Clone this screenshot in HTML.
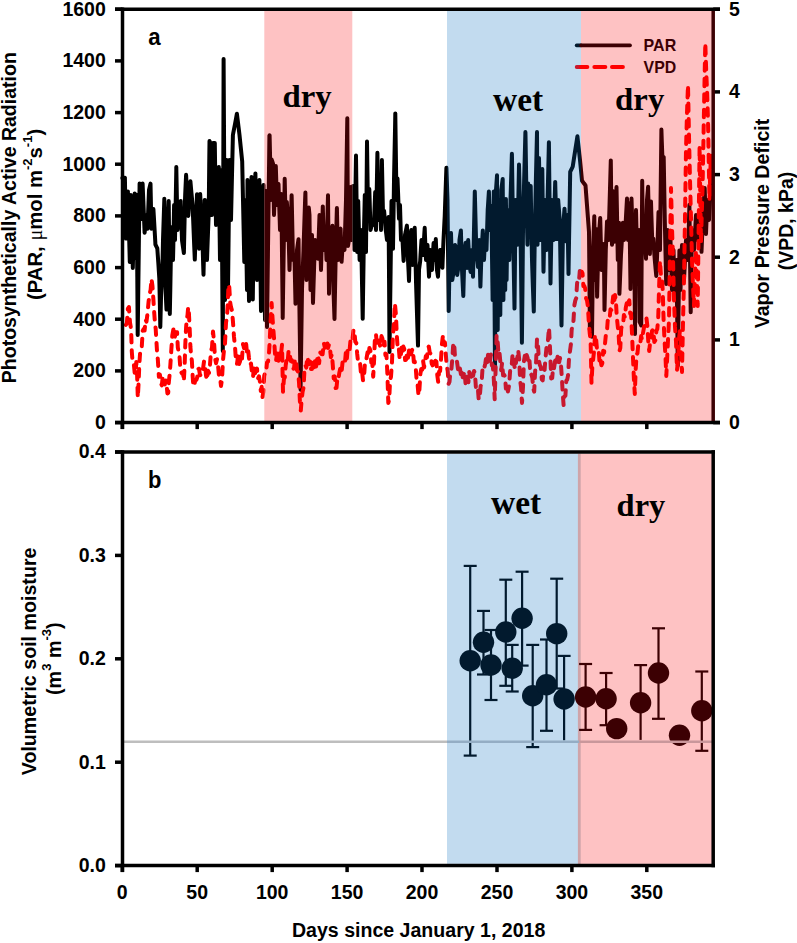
<!DOCTYPE html><html><head><meta charset="utf-8"><style>
html,body{margin:0;padding:0;background:#fff;overflow:hidden;width:797px;height:943px;}
svg{display:block;}
text{font-family:"Liberation Sans",sans-serif;font-weight:bold;}
.serif{font-family:"Liberation Serif",serif;font-weight:bold;}
</style></head><body>
<svg width="797" height="943" viewBox="0 0 797 943">
<rect width="797" height="943" fill="#fff"/>
<defs>
<clipPath id="cWa"><rect x="0" y="0" width="264.3" height="430"/><rect x="352.3" y="0" width="94.7" height="430"/></clipPath>
<clipPath id="cPa"><rect x="264.3" y="11" width="88" height="410"/><rect x="581" y="11" width="134" height="410"/></clipPath>
<clipPath id="cBa"><rect x="447" y="11" width="134" height="410"/></clipPath>
</defs>
<rect x="264.3" y="11" width="88" height="410" fill="#fec2c3"/>
<rect x="447" y="11" width="134" height="410" fill="#c2dbef"/>
<rect x="581" y="11" width="132" height="410" fill="#fec2c3"/>
<g clip-path="url(#cWa)">
<polyline points="122.3,178 123,178 123.8,177.9 124.9,177.7 125.3,201.9 125.9,238.6 126.8,217.5 127.9,191.4 128.3,206.1 129.8,261.8 129.8,262 130.8,195 131.3,213 132.8,267.7 132.8,268 134.3,209.5 134.7,193.4 135.7,258 135.8,252.4 136.7,195 137.3,277.2 137.7,335 138.8,248.5 139.6,183.6 140.3,195.7 141.6,219 141.8,212.5 142.6,183.6 143.3,200.3 144.6,232.7 144.8,231 146.3,217.1 146.5,215 147.5,228.8 147.8,221.6 149,190 149.3,188.8 150.5,183.6 150.8,197.4 151.4,228.8 152.3,220.1 153.4,209 153.8,215.6 155.3,242.2 155.4,244.5 156.8,247.3 157.3,248.4 158.3,262.7 159.3,278 159.8,300.9 160.3,327 161.2,290 161.3,288.9 162.2,274 162.8,250 163,240 164.3,199.9 164.3,198.7 165.5,290 165.8,295.1 166.5,309.6 167.3,249 167.5,230 168.7,201 168.8,207.1 169.8,314 170.3,289.6 171,250 171.8,232.6 172,227 173,260 173.3,247.2 174.1,205 174.8,230.5 175,240 176.3,169.6 176.3,167 177.5,230 177.8,226.5 178.5,216 179.3,210.9 180.7,201 180.7,202.5 182,240 182.2,241.7 183.7,252 183.9,253 185,200 185.2,194.4 186.1,174.8 186.7,186.9 188.2,214.9 188.3,216 189.7,192.2 190.4,181.3 191.2,190.4 192.6,205 192.7,208.4 194.2,245.6 194.8,259.6 195.7,231.8 197,194.3 197.2,200.4 198.7,239.2 199.1,248.7 200.2,194 200.2,194.6 201.7,224.5 202.4,237.8 203.2,265.7 203.5,274.8 204.5,230 204.7,200 205,200 206.2,236.8 207,260 207.7,240.4 208.7,214 209.2,166.1 209.5,141 210.7,144.3 211,145 212,215 212.2,199 213,143 213.7,143 214.8,143 215.2,171.7 216,225 216.7,203.5 217.5,180 218.2,172.8 218.8,167 219.7,238 220,260 221.2,187.1 221.5,170 222.7,338.9 222.8,351 223.6,59 224.2,164.3 225,300 225.7,233.7 226.5,160 227.2,221.4 228,290 228.7,228.7 229.5,160 230.2,188.3 231,220 231.7,188.5 232.9,135 233.2,133.4 234.7,125.6 235,124 236.2,117.5 236.9,113.7 237.7,120.3 239.2,132.5 239.5,135 240.7,146.8 242.2,161.5 242.2,161.5 243.7,233 244.3,262 245.2,215.8 245.5,200 246.7,271.5 247,290 247.5,180 248.2,235.7 249,301 249.7,266.8 251.2,192.5 251.5,177 252.7,288.8 252.8,299.5 254,200 254.2,196.5 255.4,173.4 255.7,192.3 257,280 257.2,272.4 258.7,209.9 259.4,180 260.2,243.9 261,311 261.7,303.2 262,299.5 263.2,209.6 263.5,185 264.7,290.9 265,320 266,191 266.2,214.8 267,327 267.7,273.3 269.2,153.8 269.4,135.7 269.6,135.3 270.7,184.8 271,200 271.6,159.4 272.2,161.1 273,163.6 273.7,198 274,215 275.2,183.2 275.8,166 276.7,194.1 277,205 278.2,188.7 278.5,184 279.7,219.7 280,230 281.2,197.8 281.3,194 282.7,314.5 282.7,318 284.2,216.3 284.7,178.7 285.7,223.9 286,240 286.8,202 287.2,206.8 288.2,221 288.7,238.2 289.5,270 290.2,246.7 291.6,195.2 291.7,197.7 293,260 293.2,259.5 294.4,255 294.7,266.1 295.5,303.7 296.1,280.5 297,250 297.6,245.4 298.5,239.3 299.1,285.6 300.6,389.7 300.6,386.5 302,290 302.1,286.2 303.5,250 303.6,245.7 305.1,200.3 305.4,192.5 306.5,280 306.6,276.3 308,240 308.1,234.4 308.8,207.6 309.5,215 309.6,225.3 310.5,290 311.1,266.7 312,235 312.6,278.2 313,303 314.1,267.3 315,240 315.6,241.2 316.9,243.5 317.1,246.7 318,258.7 318.6,240.4 319.5,215 320.1,238 321,270 321.6,247.8 322.8,206.4 323.1,218.2 324,250 324.6,241.7 325.5,230 326.1,248.7 326.5,260 327.6,211.6 328,195.3 329,293.7 329.1,289.4 330.5,240 330.6,239.1 332.1,227.8 332.4,225.7 333.5,290 333.6,293.4 334.5,319 335.1,286.3 335.8,250 336.6,218.9 336.9,208 338,260 338.1,257.7 339.5,230 339.6,229.9 340.6,228.7 341.1,245.6 341.6,261.8 342.6,246.1 343,240 344.1,247.4 344.5,250 345.6,213.1 346,200 347.1,130.5 347.3,118.2 348,246 348.6,242 349.5,236 350.1,211.4 350.7,187 351.5,240 351.6,236.4 353,186 353.1,190.3 354.5,250 354.6,243.8 356,155.6 356.1,163.4 357.2,252 357.6,231.8 358.2,201 359.1,238.7 359.6,260 360.6,238.7 361,230 362.1,287 362.7,318.7 363.6,257.9 364,230 364.8,195 365.1,208.7 366,252 366.6,187 367,141.5 368,210 368.1,208.6 369.3,189 369.6,198.8 370.5,230 371.1,227.7 372.3,223 372.6,223.3 373.9,224.8 374.1,220.2 375.2,192 375.6,210.1 376,230 377.1,170.4 377.4,152.7 378.5,220 378.6,218 379.7,189 380.1,200.9 381,230 381.6,185.3 381.9,160 383,215 383.1,214.7 384.1,211 384.6,216.7 385.6,229 386.1,232.7 387,240 387.6,231.8 388.6,217 389.1,287.3 389.5,352 390.6,271.4 391.5,201 392.1,219 393,248.7 393.6,209.9 394,180 395.1,125.5 395.3,113.4 396.5,200 396.6,198.7 397.5,178.6 398.1,193.6 399,218.7 399.6,205 400,205 401,240 401.1,240 402.4,239 402.6,241.9 403.6,261 404.1,252.5 405,235 405.6,232.3 406.9,225.6 407.1,230.4 408,260 408.6,271.6 409,281 410,240 410.1,239.6 411.3,230 411.5,237.3 412.5,265 413,251.3 413.5,240 414.5,229.4 414.7,227.8 416,280 416,281.5 417.5,330.6 418,345.6 419,270 419,269.7 420.2,261 420.5,255.5 421.5,240 422,245.4 423,255 423.5,246.4 424.7,227.8 425,236.2 426,260 426.5,254.6 427.5,245 428,256.3 429,276.7 429.5,267.2 430.5,250 431,257.1 432,270 432.5,261 433.6,243 434,248.2 435,260 435.5,246.1 435.8,239 437,270 437,270.2 438,276.7 438.5,265.3 439,255 440,250.7 440.2,250 441.5,262 441.5,262.1 442.4,267.8 443,252.1 443.5,240 444.5,220.2 444.7,216.7 446,178.8 446.4,167.8 447.5,200 447.5,201.7 448.7,311 449,293.7 450,240 450.5,236.4 451,233 452,269.7 452.3,280 453.5,272 453.5,271.8 455,245 455,245 456,247.6 456.5,259.2 457.2,275 458,269.6 458.4,267 459.5,240 459.5,239.9 460.9,230.5 461,234.3 462,270 462.5,280.1 463.3,296 464,269 464.5,250 465.5,243.9 465.7,242.7 467,268 467,268 468.2,240 468.5,245.8 469.5,265 470,268.2 470.6,272 471.5,255.6 471.8,250 473,276.7 473,276.8 474.5,206 474.8,191.5 476,238 476.3,250 477.5,261.9 478,267 479,244.7 479.2,240 480.4,286.6 480.5,283.9 481.6,250 482,243.7 482.8,230.5 483.5,247.4 484,260 485,239.5 485.2,235 486.5,249.8 486.5,250 487.7,210 488,205.6 488.9,191.5 489.5,211.9 490,230 491,211.9 491.3,206 492.5,291.2 492.6,300 493.8,191.5 494,217.5 495,367 495.5,282.7 496,190 497,175.7 497,175.3 497.7,330 498.5,204.3 498.5,200 499.5,224 500,277.7 500.3,315 501.2,190 501.5,188 502.7,179 503,225.6 503.4,300 504.3,200 504.5,216.8 505.2,290 505.9,199 506,206.8 506.6,280 507.5,212.7 507.5,210 508.4,211.6 509,242 509.3,260 510.5,201.8 510.5,200 511.9,153.7 512,158 513,230 513.5,254.1 514.5,308.6 515,258.7 515.5,200 516.5,222.6 517.4,244.8 518,216.9 519,164.5 519.5,184.4 520.5,230 521,266.6 521.9,342.8 522.5,286.1 523,230 524,188.1 524,186 525.4,132 525.5,135.1 526.5,200 526.9,220.1 527.5,244.8 528.2,183.6 528.4,192.4 529.5,230 529.9,213.6 530.7,186 531.4,228.4 532,260 532.9,287.1 533.8,311.6 534.4,263.5 535,221.8 535.9,179.5 537,132 537.4,231.2 537.5,244.8 538.9,161.6 539,158 540.4,236.6 540.5,240 541.9,183.4 542.3,169 543.4,266.2 543.5,271.8 544.9,203.2 545,200 546.4,247.7 546.5,250 547.9,185.7 548.9,142.2 549.4,188.9 550.5,283.4 550.9,259.6 552,200 552.4,211.4 553.5,240 553.9,225.5 555.2,181.9 555.4,189.9 556.8,239 556.9,235.6 558.2,200 558.4,202.8 559.8,220.4 559.9,227.8 561.4,320.5 561.5,325.5 562.9,235.2 563,230 564.4,209.9 564.5,208.7 565.9,233.1 566.4,241.4 567.4,217.1 567.5,215 568.5,274 568.9,249.2 570.2,172 570.4,171.4 570.4,171.4 571.9,168.3 572.7,166.7 573.4,162.1 574.9,152.4 576.4,142.7 577.4,136.3 577.9,140.9 579.4,154.6 580,160 580.9,169.3 582,180.7 582.4,181.2 583.9,183.3 585.4,185.3 585.5,185.4 586.9,204 588.4,224 589,232 589.9,330 590.2,330 591.3,300 591.4,304.9 592,336.8 592.9,259.4 593,250 594.3,216.3 594.4,224.5 595,280 595.9,242.2 596.2,229 597.1,296.8 597.4,285.1 598.5,240 598.9,235 600.2,218 600.4,225.4 601.5,270 601.9,264.9 603,250 603.4,247.1 603.8,244 604.5,310 604.9,292.4 605.8,250 606.4,236.2 607,221.4 607.9,232.3 608.5,240 609.4,209.6 610.8,160.4 610.9,168 611.5,230 612,244.8 612.4,216 612.7,191 613.9,236.9 614,241.8 615.3,210 615.4,208.6 616.5,187 616.9,207.8 617.8,260 618.4,242.3 619,222.7 619.4,293.8 619.9,282.3 621,254.5 621.4,248.4 622.9,223.3 622.9,222.7 624,240 624.4,236.5 625.4,226.5 625.9,218.4 627,198.5 627.4,213.5 628,240 628.9,215.9 629.3,203.6 630.4,279 630.5,289 631.5,198.5 631.9,211.3 633,252 633.4,240.6 634,220 634.9,317.4 635,333.9 636,210 636.4,226.1 637.5,278 637.9,266.7 639,230 639.4,283.9 639.6,322 640.9,324.7 641.2,325.5 642.2,180.8 642.3,190.2 643.3,250 643.8,240.5 644.4,231 645.3,247.4 646,258.7 646.8,209.1 647,200 648.1,186.8 648.3,195.9 649.8,251.8 649.9,254 651,201.6 651.3,212.5 652.2,240 652.8,239.2 653.3,238.7 654.3,253.4 654.8,260 655.8,271.1 656.3,276 657.3,250.1 657.5,246 658.5,212 658.8,220.5 660,250 660.3,221.3 661.4,129.6 661.8,141.5 662.5,160 663.3,157.9 663.7,157 664.8,220.4 665,230 666.2,284 666.3,278.7 667.5,230 667.8,238.7 669,270 669.3,263.5 670.5,240 670.8,250.8 672,290 672.3,281.4 673.5,250 673.8,260.7 675,300 675.3,291.5 676.5,260 676.8,285.9 677.8,365.7 678.3,328.4 679.4,250.5 679.8,265.5 680.5,290 681.3,265.5 682,245 682.8,259.2 684,280 684.3,273.8 685.8,243.8 686,240 687.3,253.1 688,260 688.8,228.1 689.4,204.7 690.3,279.8 690.7,312.3 691.8,242.3 692,230 693.3,243 694,250 694.8,235.9 696,215 696.3,218.8 697.8,237.5 698,240 699.3,227 700,220 700.8,236.9 701.5,251.8 702.3,232.2 703,215 703.8,202.4 704.7,188 705.3,209 706,234 706.8,213.3 707.3,200 708.3,211.7 709,220 709.8,204.2 710.5,190 711.3,185.7 712,181.8" fill="none" stroke="#000" stroke-width="4" stroke-linejoin="round" stroke-linecap="round"/>
<polyline points="125.9,324.9 126.9,323 127.9,308.5 128.9,307 130,322.7 131.1,329 131.8,351.6 132.6,362 133.7,362.7 134.8,373.9 135.6,372.4 136.3,362 137.1,374.6 137.8,397.6 138.6,383.1 139.3,365 140.1,352.6 140.8,347 141.8,346.3 142.7,330.9 143.7,329 144.6,330.5 145.6,319.7 146.5,321.6 147.4,314.5 148.6,301.5 149.7,293.7 150.6,290 151.5,278.9 152.4,285.4 153.4,299.7 154.2,312.6 154.9,322 155.7,329 156.4,341 157.1,352.7 157.8,359 158.9,376.8 159.9,374.6 160.8,382.8 161.8,385.4 162.8,376.5 163.8,376.8 164.8,384.5 165.7,380.5 166.7,385.7 167.4,393.4 168.2,393 168.9,381.3 169.7,373.9 170.4,364.4 171.2,351.6 172.3,335.4 173.4,329.3 174.2,335.5 174.9,336.8 176,332.1 177.1,332.3 177.8,347.4 178.6,351.6 179.3,353.3 180.1,365 181.2,372.2 182.3,373.9 183.1,372.2 183.8,381.3 184.6,366.5 185.3,344.2 186.1,327.3 186.8,319 187.5,315.4 188.2,307 188.9,312.9 189.7,329.3 190.4,347 191.2,356 191.9,361 192.7,376.8 193.4,386.3 194.2,385.7 195.3,379.9 196.4,379.8 197.2,377.4 198,369 199,368.7 200,375.2 201,375 202,368.6 203,368.9 204,361.6 205,363.8 206,375.5 207,380 208,370.7 209,373 210,365 211,351 212,347.5 213,331.5 214,341.2 215,358 216,363.2 217,359.2 218,365 219,376.4 220,377.1 221,386 222,379.4 223,360.3 224,350 225,343.4 226,322.8 227,316.5 227.8,302.2 228.5,284.5 229.3,287.3 230.2,302.6 231,307 232,310.6 233,322 234,336.9 235,346.6 236,361.6 237,363.9 238,356.3 239,364 240,361.6 241,352.9 242,358.6 243,344 244,348.1 245,341 246,342.2 247,353.2 248,349.1 249,358 250,365.1 251,363.5 252,373 253,377.2 254,367 255,373.3 256,371 257,368.5 258,378.5 259,376.3 260,382 260.8,391 261.7,386.8 262.5,397 263.3,392 264.2,375.8 265,373 266,372.9 267,362.5 268,361.6 268.8,356.2 269.5,345 270.6,321.7 271.6,303 272.6,319.2 273.5,331.5 274.2,340.5 275,354 276,360.8 277,353.6 278,361.6 279,359.6 280,351.3 281,354.4 282,344.7 283,391.7 283.9,379.2 284.8,377.4 285.7,365.4 286.6,359.5 287.6,362.6 288.6,350.5 289.5,352 290.7,361.1 291.8,360.1 293,369 294,368.4 295,358.9 296,361.6 297,370.2 298,371.6 299,382 299.9,401.2 300.8,410.6 301.7,399 302.6,391.7 303.6,387.4 304.5,368.9 305.5,365.4 306.3,367.6 307.2,357 308,359.8 309,364.2 310,361.1 311,368.9 312,369 313,362.6 313.9,368.8 314.9,361.2 315.8,368.6 316.8,361.6 318,354.8 319.1,363.2 320.3,352.5 321.5,354 322.6,354.3 323.8,343 324.9,347.7 326,341 327,340.1 328,348 329,344.4 330,348.5 330.9,357.2 331.9,354.3 332.8,365.4 333.7,378.3 334.7,376.4 335.6,388 336.5,387.8 337.5,377.5 338.4,378.7 339.3,373 340.5,367.5 341.6,372 342.8,359.5 344,361.6 345,362 345.9,351.7 346.9,358.4 347.8,346.8 348.8,348.5 349.7,349.5 350.7,337.6 351.6,339 352.5,339.5 353.5,329.6 354.4,331.5 355.3,341.7 356.3,343 357.2,354 358.1,362.4 359,361.6 360,362 361,373.8 362,370.5 363,380.5 363.9,379 364.8,365.3 365.7,365.2 366.6,357.9 367.6,352.2 368.5,356.7 369.4,348 370.4,350.3 371.3,362.5 372.3,363.1 373.2,376.7 374.1,360.1 375,335.3 376,334.3 377,345.8 378,346.6 379.1,340.6 380.3,347.3 381.5,336.1 382.6,339 383.6,345.7 384.5,341.6 385.4,355.2 386.4,354 387.4,374.2 388.3,403 389.2,399.6 390.1,380.1 391,376.7 392,362 392.9,336.3 393.9,323.9 394.9,303.3 395.9,314.4 396.8,335.3 397.7,348.1 398.7,346.9 399.6,357.9 400.5,359.4 401.5,347.8 402.4,353.9 403.3,346.6 404.2,348.7 405.1,360.1 406,359.8 407,352.7 408,357.7 409,350.3 410,346.9 411,354.2 412,350 412.9,349.2 413.8,361.8 414.7,361.5 415.6,365.6 416.6,380.2 417.6,384.7 418.5,395.4 419.4,389.9 420.4,373.6 421.3,369 422.2,369.6 423.1,361 424.1,367.5 425,361.5 425.9,355.9 426.9,357.5 427.9,347.7 428.8,346.5 429.8,353.1 430.7,353.7 431.7,363.5 432.6,365.3 433.6,362 434.5,365.8 435.4,360.7 436.4,361.5 437.3,375.3 438.2,382.2 439.1,371.6 440.1,371.1 441,359.6 442,343.4 443,335 443.9,343.9 444.9,342.5 445.8,354 446.7,365.7 447.7,370.8 448.6,384 449.5,381.7 450.5,370.8 451.4,369 452.4,357.9 453.3,342.7 454.2,344.1 455.1,358.3 456,361.5 457,361.6 458,369.3 459,365.1 460,369 460.9,374.2 461.8,368.9 462.7,377.2 463.6,374.7 464.6,371.2 465.5,383.2 466.5,380.3 467.4,375.6 468.4,382.3 469.3,372 470.2,374.7 471.1,376.8 472.1,370.7 473.1,375.9 474,371 474.9,372.8 475.9,387.6 476.8,387.9 477.7,386.3 478.7,399.4 479.6,399.2 480.6,386.1 481.5,384.2 482.5,369 483.4,365.5 484.4,367.3 485.3,363.4 486.2,357.2 487.1,362.7 488.1,354.2 489,354 489.9,360.9 490.9,354.6 491.9,365.6 492.8,365.3 493.8,378.9 494.7,399.2 495.6,369.7 496.6,335.2 497.5,339 498.5,353.7 499.4,351.8 500.3,361.5 501.2,370.2 502.1,362.9 503.1,375.3 504,374.7 505,376.3 505.9,388.6 506.9,383.8 507.9,391.6 509.1,385.4 510.2,369.9 511.4,368.8 512.6,354 513.5,355.5 514.5,366.8 515.4,369 516.3,359.2 517.3,358.6 518.2,350.2 519.2,359.4 520.1,380 521,387 522,403 523,386.9 523.9,361.5 524.8,355.7 525.8,361.4 526.7,355 527.6,357.8 528.5,364.7 529.5,361 530.5,375.1 531.4,374.7 532.3,377.7 533.3,388.6 534.2,391.6 535.1,371.8 536.1,362 537,339 538,345 538.9,360.5 539.9,365.3 540.8,366.8 541.8,379.4 542.7,380.3 543.6,368.8 544.6,369.8 545.5,357.8 546.7,345.6 547.8,342.2 549,327.6 550.1,350.2 551.2,378.5 552.2,378 553.1,367.1 554,368.5 555,361.5 555.8,356.3 556.7,361.9 557.5,357 558.3,354.3 559.2,362.2 560,358 561,365.1 562,380 562.8,394.3 563.6,405 564.5,396.1 565.4,395.8 566.3,380.8 567.2,379.7 568.1,375.2 569.1,356.8 570,351 570.9,344.3 571.7,329.5 572.6,325.7 573.5,320.6 574.4,305 575.3,300.5 576.2,298.2 577.1,283.1 578,280.6 578.9,281.9 579.8,270.9 580.7,277 581.6,271.6 582.5,273.2 583.4,286.1 584.3,286 585.2,288.4 586.1,298.5 587,300.5 587.9,306.4 588.8,322 589.7,332.9 590.6,340 591.5,383 592.4,365.6 593.3,358 594.1,350.7 595,334.7 595.9,336.8 596.9,348.3 597.8,351 598.7,349.9 599.6,363.3 600.5,359.5 601.4,365.3 602.3,363.4 603.2,350.7 604.1,352.7 605,343.7 605.9,334.5 606.8,333.3 607.7,320.9 608.6,318.5 609.5,319.7 610.5,309.3 611.4,310.2 612.3,304 613.2,296.2 614.1,302.7 615,295 615.9,301 616.8,317.2 617.7,325.7 618.6,333.9 619.5,351 620.3,348 621.2,328.6 622,325.7 623,325.5 623.9,314.9 624.8,317.1 625.8,307.7 626.7,303.3 627.6,308 628.5,302 629.3,300.4 630.2,313.7 631,313 632,333.3 633,358 633.9,378.8 634.8,394 635.7,369.1 636.6,354.5 637.5,353.1 638.4,343.3 639.3,343.7 640.2,344.3 641.1,336.1 642.1,339.7 643,333 644.2,326.3 645.3,325.4 646.5,318.5 647.4,326.2 648.3,342.1 649.2,351 650.1,342.5 651.1,341.5 652,331 653.2,329.5 654.3,342 655.5,340 656.4,330.7 657.3,329 658.2,318.5 659.1,286.8 660,260.8 660.9,274.4 661.8,276.5 662.7,289.6 663.6,320.1 664.5,340 665.4,354.9 666.3,376 667.1,359.9 668,340 669,320 670,249.7 671,188 672,227.6 673,258.6 674,300 675,326.9 676,341.5 677,370 678,360.5 679,339.3 680,330 681,353.7 682,372 683,322.2 684,280 685,217.6 686,150 687,113 688,85 689,136.1 690,180 691,217.8 692,260 693,285.6 694,306 695,274.9 696,250 696.9,282.5 697.7,306 698.7,223.7 699.6,146 700.3,198.9 701,243 701.8,212.3 702.5,190 703.4,143 704.4,87.8 705.3,43 706.2,70.7 707.1,92.2 708,120 708.8,163.9 709.5,200 710.2,174.4 711,154 711.8,182 712.5,200" fill="none" stroke="#ff0000" stroke-width="4" stroke-dasharray="7.5 8" stroke-linejoin="round" stroke-linecap="round"/>
</g>
<g clip-path="url(#cPa)">
<polyline points="122.3,178 123,178 123.8,177.9 124.9,177.7 125.3,201.9 125.9,238.6 126.8,217.5 127.9,191.4 128.3,206.1 129.8,261.8 129.8,262 130.8,195 131.3,213 132.8,267.7 132.8,268 134.3,209.5 134.7,193.4 135.7,258 135.8,252.4 136.7,195 137.3,277.2 137.7,335 138.8,248.5 139.6,183.6 140.3,195.7 141.6,219 141.8,212.5 142.6,183.6 143.3,200.3 144.6,232.7 144.8,231 146.3,217.1 146.5,215 147.5,228.8 147.8,221.6 149,190 149.3,188.8 150.5,183.6 150.8,197.4 151.4,228.8 152.3,220.1 153.4,209 153.8,215.6 155.3,242.2 155.4,244.5 156.8,247.3 157.3,248.4 158.3,262.7 159.3,278 159.8,300.9 160.3,327 161.2,290 161.3,288.9 162.2,274 162.8,250 163,240 164.3,199.9 164.3,198.7 165.5,290 165.8,295.1 166.5,309.6 167.3,249 167.5,230 168.7,201 168.8,207.1 169.8,314 170.3,289.6 171,250 171.8,232.6 172,227 173,260 173.3,247.2 174.1,205 174.8,230.5 175,240 176.3,169.6 176.3,167 177.5,230 177.8,226.5 178.5,216 179.3,210.9 180.7,201 180.7,202.5 182,240 182.2,241.7 183.7,252 183.9,253 185,200 185.2,194.4 186.1,174.8 186.7,186.9 188.2,214.9 188.3,216 189.7,192.2 190.4,181.3 191.2,190.4 192.6,205 192.7,208.4 194.2,245.6 194.8,259.6 195.7,231.8 197,194.3 197.2,200.4 198.7,239.2 199.1,248.7 200.2,194 200.2,194.6 201.7,224.5 202.4,237.8 203.2,265.7 203.5,274.8 204.5,230 204.7,200 205,200 206.2,236.8 207,260 207.7,240.4 208.7,214 209.2,166.1 209.5,141 210.7,144.3 211,145 212,215 212.2,199 213,143 213.7,143 214.8,143 215.2,171.7 216,225 216.7,203.5 217.5,180 218.2,172.8 218.8,167 219.7,238 220,260 221.2,187.1 221.5,170 222.7,338.9 222.8,351 223.6,59 224.2,164.3 225,300 225.7,233.7 226.5,160 227.2,221.4 228,290 228.7,228.7 229.5,160 230.2,188.3 231,220 231.7,188.5 232.9,135 233.2,133.4 234.7,125.6 235,124 236.2,117.5 236.9,113.7 237.7,120.3 239.2,132.5 239.5,135 240.7,146.8 242.2,161.5 242.2,161.5 243.7,233 244.3,262 245.2,215.8 245.5,200 246.7,271.5 247,290 247.5,180 248.2,235.7 249,301 249.7,266.8 251.2,192.5 251.5,177 252.7,288.8 252.8,299.5 254,200 254.2,196.5 255.4,173.4 255.7,192.3 257,280 257.2,272.4 258.7,209.9 259.4,180 260.2,243.9 261,311 261.7,303.2 262,299.5 263.2,209.6 263.5,185 264.7,290.9 265,320 266,191 266.2,214.8 267,327 267.7,273.3 269.2,153.8 269.4,135.7 269.6,135.3 270.7,184.8 271,200 271.6,159.4 272.2,161.1 273,163.6 273.7,198 274,215 275.2,183.2 275.8,166 276.7,194.1 277,205 278.2,188.7 278.5,184 279.7,219.7 280,230 281.2,197.8 281.3,194 282.7,314.5 282.7,318 284.2,216.3 284.7,178.7 285.7,223.9 286,240 286.8,202 287.2,206.8 288.2,221 288.7,238.2 289.5,270 290.2,246.7 291.6,195.2 291.7,197.7 293,260 293.2,259.5 294.4,255 294.7,266.1 295.5,303.7 296.1,280.5 297,250 297.6,245.4 298.5,239.3 299.1,285.6 300.6,389.7 300.6,386.5 302,290 302.1,286.2 303.5,250 303.6,245.7 305.1,200.3 305.4,192.5 306.5,280 306.6,276.3 308,240 308.1,234.4 308.8,207.6 309.5,215 309.6,225.3 310.5,290 311.1,266.7 312,235 312.6,278.2 313,303 314.1,267.3 315,240 315.6,241.2 316.9,243.5 317.1,246.7 318,258.7 318.6,240.4 319.5,215 320.1,238 321,270 321.6,247.8 322.8,206.4 323.1,218.2 324,250 324.6,241.7 325.5,230 326.1,248.7 326.5,260 327.6,211.6 328,195.3 329,293.7 329.1,289.4 330.5,240 330.6,239.1 332.1,227.8 332.4,225.7 333.5,290 333.6,293.4 334.5,319 335.1,286.3 335.8,250 336.6,218.9 336.9,208 338,260 338.1,257.7 339.5,230 339.6,229.9 340.6,228.7 341.1,245.6 341.6,261.8 342.6,246.1 343,240 344.1,247.4 344.5,250 345.6,213.1 346,200 347.1,130.5 347.3,118.2 348,246 348.6,242 349.5,236 350.1,211.4 350.7,187 351.5,240 351.6,236.4 353,186 353.1,190.3 354.5,250 354.6,243.8 356,155.6 356.1,163.4 357.2,252 357.6,231.8 358.2,201 359.1,238.7 359.6,260 360.6,238.7 361,230 362.1,287 362.7,318.7 363.6,257.9 364,230 364.8,195 365.1,208.7 366,252 366.6,187 367,141.5 368,210 368.1,208.6 369.3,189 369.6,198.8 370.5,230 371.1,227.7 372.3,223 372.6,223.3 373.9,224.8 374.1,220.2 375.2,192 375.6,210.1 376,230 377.1,170.4 377.4,152.7 378.5,220 378.6,218 379.7,189 380.1,200.9 381,230 381.6,185.3 381.9,160 383,215 383.1,214.7 384.1,211 384.6,216.7 385.6,229 386.1,232.7 387,240 387.6,231.8 388.6,217 389.1,287.3 389.5,352 390.6,271.4 391.5,201 392.1,219 393,248.7 393.6,209.9 394,180 395.1,125.5 395.3,113.4 396.5,200 396.6,198.7 397.5,178.6 398.1,193.6 399,218.7 399.6,205 400,205 401,240 401.1,240 402.4,239 402.6,241.9 403.6,261 404.1,252.5 405,235 405.6,232.3 406.9,225.6 407.1,230.4 408,260 408.6,271.6 409,281 410,240 410.1,239.6 411.3,230 411.5,237.3 412.5,265 413,251.3 413.5,240 414.5,229.4 414.7,227.8 416,280 416,281.5 417.5,330.6 418,345.6 419,270 419,269.7 420.2,261 420.5,255.5 421.5,240 422,245.4 423,255 423.5,246.4 424.7,227.8 425,236.2 426,260 426.5,254.6 427.5,245 428,256.3 429,276.7 429.5,267.2 430.5,250 431,257.1 432,270 432.5,261 433.6,243 434,248.2 435,260 435.5,246.1 435.8,239 437,270 437,270.2 438,276.7 438.5,265.3 439,255 440,250.7 440.2,250 441.5,262 441.5,262.1 442.4,267.8 443,252.1 443.5,240 444.5,220.2 444.7,216.7 446,178.8 446.4,167.8 447.5,200 447.5,201.7 448.7,311 449,293.7 450,240 450.5,236.4 451,233 452,269.7 452.3,280 453.5,272 453.5,271.8 455,245 455,245 456,247.6 456.5,259.2 457.2,275 458,269.6 458.4,267 459.5,240 459.5,239.9 460.9,230.5 461,234.3 462,270 462.5,280.1 463.3,296 464,269 464.5,250 465.5,243.9 465.7,242.7 467,268 467,268 468.2,240 468.5,245.8 469.5,265 470,268.2 470.6,272 471.5,255.6 471.8,250 473,276.7 473,276.8 474.5,206 474.8,191.5 476,238 476.3,250 477.5,261.9 478,267 479,244.7 479.2,240 480.4,286.6 480.5,283.9 481.6,250 482,243.7 482.8,230.5 483.5,247.4 484,260 485,239.5 485.2,235 486.5,249.8 486.5,250 487.7,210 488,205.6 488.9,191.5 489.5,211.9 490,230 491,211.9 491.3,206 492.5,291.2 492.6,300 493.8,191.5 494,217.5 495,367 495.5,282.7 496,190 497,175.7 497,175.3 497.7,330 498.5,204.3 498.5,200 499.5,224 500,277.7 500.3,315 501.2,190 501.5,188 502.7,179 503,225.6 503.4,300 504.3,200 504.5,216.8 505.2,290 505.9,199 506,206.8 506.6,280 507.5,212.7 507.5,210 508.4,211.6 509,242 509.3,260 510.5,201.8 510.5,200 511.9,153.7 512,158 513,230 513.5,254.1 514.5,308.6 515,258.7 515.5,200 516.5,222.6 517.4,244.8 518,216.9 519,164.5 519.5,184.4 520.5,230 521,266.6 521.9,342.8 522.5,286.1 523,230 524,188.1 524,186 525.4,132 525.5,135.1 526.5,200 526.9,220.1 527.5,244.8 528.2,183.6 528.4,192.4 529.5,230 529.9,213.6 530.7,186 531.4,228.4 532,260 532.9,287.1 533.8,311.6 534.4,263.5 535,221.8 535.9,179.5 537,132 537.4,231.2 537.5,244.8 538.9,161.6 539,158 540.4,236.6 540.5,240 541.9,183.4 542.3,169 543.4,266.2 543.5,271.8 544.9,203.2 545,200 546.4,247.7 546.5,250 547.9,185.7 548.9,142.2 549.4,188.9 550.5,283.4 550.9,259.6 552,200 552.4,211.4 553.5,240 553.9,225.5 555.2,181.9 555.4,189.9 556.8,239 556.9,235.6 558.2,200 558.4,202.8 559.8,220.4 559.9,227.8 561.4,320.5 561.5,325.5 562.9,235.2 563,230 564.4,209.9 564.5,208.7 565.9,233.1 566.4,241.4 567.4,217.1 567.5,215 568.5,274 568.9,249.2 570.2,172 570.4,171.4 570.4,171.4 571.9,168.3 572.7,166.7 573.4,162.1 574.9,152.4 576.4,142.7 577.4,136.3 577.9,140.9 579.4,154.6 580,160 580.9,169.3 582,180.7 582.4,181.2 583.9,183.3 585.4,185.3 585.5,185.4 586.9,204 588.4,224 589,232 589.9,330 590.2,330 591.3,300 591.4,304.9 592,336.8 592.9,259.4 593,250 594.3,216.3 594.4,224.5 595,280 595.9,242.2 596.2,229 597.1,296.8 597.4,285.1 598.5,240 598.9,235 600.2,218 600.4,225.4 601.5,270 601.9,264.9 603,250 603.4,247.1 603.8,244 604.5,310 604.9,292.4 605.8,250 606.4,236.2 607,221.4 607.9,232.3 608.5,240 609.4,209.6 610.8,160.4 610.9,168 611.5,230 612,244.8 612.4,216 612.7,191 613.9,236.9 614,241.8 615.3,210 615.4,208.6 616.5,187 616.9,207.8 617.8,260 618.4,242.3 619,222.7 619.4,293.8 619.9,282.3 621,254.5 621.4,248.4 622.9,223.3 622.9,222.7 624,240 624.4,236.5 625.4,226.5 625.9,218.4 627,198.5 627.4,213.5 628,240 628.9,215.9 629.3,203.6 630.4,279 630.5,289 631.5,198.5 631.9,211.3 633,252 633.4,240.6 634,220 634.9,317.4 635,333.9 636,210 636.4,226.1 637.5,278 637.9,266.7 639,230 639.4,283.9 639.6,322 640.9,324.7 641.2,325.5 642.2,180.8 642.3,190.2 643.3,250 643.8,240.5 644.4,231 645.3,247.4 646,258.7 646.8,209.1 647,200 648.1,186.8 648.3,195.9 649.8,251.8 649.9,254 651,201.6 651.3,212.5 652.2,240 652.8,239.2 653.3,238.7 654.3,253.4 654.8,260 655.8,271.1 656.3,276 657.3,250.1 657.5,246 658.5,212 658.8,220.5 660,250 660.3,221.3 661.4,129.6 661.8,141.5 662.5,160 663.3,157.9 663.7,157 664.8,220.4 665,230 666.2,284 666.3,278.7 667.5,230 667.8,238.7 669,270 669.3,263.5 670.5,240 670.8,250.8 672,290 672.3,281.4 673.5,250 673.8,260.7 675,300 675.3,291.5 676.5,260 676.8,285.9 677.8,365.7 678.3,328.4 679.4,250.5 679.8,265.5 680.5,290 681.3,265.5 682,245 682.8,259.2 684,280 684.3,273.8 685.8,243.8 686,240 687.3,253.1 688,260 688.8,228.1 689.4,204.7 690.3,279.8 690.7,312.3 691.8,242.3 692,230 693.3,243 694,250 694.8,235.9 696,215 696.3,218.8 697.8,237.5 698,240 699.3,227 700,220 700.8,236.9 701.5,251.8 702.3,232.2 703,215 703.8,202.4 704.7,188 705.3,209 706,234 706.8,213.3 707.3,200 708.3,211.7 709,220 709.8,204.2 710.5,190 711.3,185.7 712,181.8" fill="none" stroke="#3c0003" stroke-width="4" stroke-linejoin="round" stroke-linecap="round"/>
<polyline points="125.9,324.9 126.9,323 127.9,308.5 128.9,307 130,322.7 131.1,329 131.8,351.6 132.6,362 133.7,362.7 134.8,373.9 135.6,372.4 136.3,362 137.1,374.6 137.8,397.6 138.6,383.1 139.3,365 140.1,352.6 140.8,347 141.8,346.3 142.7,330.9 143.7,329 144.6,330.5 145.6,319.7 146.5,321.6 147.4,314.5 148.6,301.5 149.7,293.7 150.6,290 151.5,278.9 152.4,285.4 153.4,299.7 154.2,312.6 154.9,322 155.7,329 156.4,341 157.1,352.7 157.8,359 158.9,376.8 159.9,374.6 160.8,382.8 161.8,385.4 162.8,376.5 163.8,376.8 164.8,384.5 165.7,380.5 166.7,385.7 167.4,393.4 168.2,393 168.9,381.3 169.7,373.9 170.4,364.4 171.2,351.6 172.3,335.4 173.4,329.3 174.2,335.5 174.9,336.8 176,332.1 177.1,332.3 177.8,347.4 178.6,351.6 179.3,353.3 180.1,365 181.2,372.2 182.3,373.9 183.1,372.2 183.8,381.3 184.6,366.5 185.3,344.2 186.1,327.3 186.8,319 187.5,315.4 188.2,307 188.9,312.9 189.7,329.3 190.4,347 191.2,356 191.9,361 192.7,376.8 193.4,386.3 194.2,385.7 195.3,379.9 196.4,379.8 197.2,377.4 198,369 199,368.7 200,375.2 201,375 202,368.6 203,368.9 204,361.6 205,363.8 206,375.5 207,380 208,370.7 209,373 210,365 211,351 212,347.5 213,331.5 214,341.2 215,358 216,363.2 217,359.2 218,365 219,376.4 220,377.1 221,386 222,379.4 223,360.3 224,350 225,343.4 226,322.8 227,316.5 227.8,302.2 228.5,284.5 229.3,287.3 230.2,302.6 231,307 232,310.6 233,322 234,336.9 235,346.6 236,361.6 237,363.9 238,356.3 239,364 240,361.6 241,352.9 242,358.6 243,344 244,348.1 245,341 246,342.2 247,353.2 248,349.1 249,358 250,365.1 251,363.5 252,373 253,377.2 254,367 255,373.3 256,371 257,368.5 258,378.5 259,376.3 260,382 260.8,391 261.7,386.8 262.5,397 263.3,392 264.2,375.8 265,373 266,372.9 267,362.5 268,361.6 268.8,356.2 269.5,345 270.6,321.7 271.6,303 272.6,319.2 273.5,331.5 274.2,340.5 275,354 276,360.8 277,353.6 278,361.6 279,359.6 280,351.3 281,354.4 282,344.7 283,391.7 283.9,379.2 284.8,377.4 285.7,365.4 286.6,359.5 287.6,362.6 288.6,350.5 289.5,352 290.7,361.1 291.8,360.1 293,369 294,368.4 295,358.9 296,361.6 297,370.2 298,371.6 299,382 299.9,401.2 300.8,410.6 301.7,399 302.6,391.7 303.6,387.4 304.5,368.9 305.5,365.4 306.3,367.6 307.2,357 308,359.8 309,364.2 310,361.1 311,368.9 312,369 313,362.6 313.9,368.8 314.9,361.2 315.8,368.6 316.8,361.6 318,354.8 319.1,363.2 320.3,352.5 321.5,354 322.6,354.3 323.8,343 324.9,347.7 326,341 327,340.1 328,348 329,344.4 330,348.5 330.9,357.2 331.9,354.3 332.8,365.4 333.7,378.3 334.7,376.4 335.6,388 336.5,387.8 337.5,377.5 338.4,378.7 339.3,373 340.5,367.5 341.6,372 342.8,359.5 344,361.6 345,362 345.9,351.7 346.9,358.4 347.8,346.8 348.8,348.5 349.7,349.5 350.7,337.6 351.6,339 352.5,339.5 353.5,329.6 354.4,331.5 355.3,341.7 356.3,343 357.2,354 358.1,362.4 359,361.6 360,362 361,373.8 362,370.5 363,380.5 363.9,379 364.8,365.3 365.7,365.2 366.6,357.9 367.6,352.2 368.5,356.7 369.4,348 370.4,350.3 371.3,362.5 372.3,363.1 373.2,376.7 374.1,360.1 375,335.3 376,334.3 377,345.8 378,346.6 379.1,340.6 380.3,347.3 381.5,336.1 382.6,339 383.6,345.7 384.5,341.6 385.4,355.2 386.4,354 387.4,374.2 388.3,403 389.2,399.6 390.1,380.1 391,376.7 392,362 392.9,336.3 393.9,323.9 394.9,303.3 395.9,314.4 396.8,335.3 397.7,348.1 398.7,346.9 399.6,357.9 400.5,359.4 401.5,347.8 402.4,353.9 403.3,346.6 404.2,348.7 405.1,360.1 406,359.8 407,352.7 408,357.7 409,350.3 410,346.9 411,354.2 412,350 412.9,349.2 413.8,361.8 414.7,361.5 415.6,365.6 416.6,380.2 417.6,384.7 418.5,395.4 419.4,389.9 420.4,373.6 421.3,369 422.2,369.6 423.1,361 424.1,367.5 425,361.5 425.9,355.9 426.9,357.5 427.9,347.7 428.8,346.5 429.8,353.1 430.7,353.7 431.7,363.5 432.6,365.3 433.6,362 434.5,365.8 435.4,360.7 436.4,361.5 437.3,375.3 438.2,382.2 439.1,371.6 440.1,371.1 441,359.6 442,343.4 443,335 443.9,343.9 444.9,342.5 445.8,354 446.7,365.7 447.7,370.8 448.6,384 449.5,381.7 450.5,370.8 451.4,369 452.4,357.9 453.3,342.7 454.2,344.1 455.1,358.3 456,361.5 457,361.6 458,369.3 459,365.1 460,369 460.9,374.2 461.8,368.9 462.7,377.2 463.6,374.7 464.6,371.2 465.5,383.2 466.5,380.3 467.4,375.6 468.4,382.3 469.3,372 470.2,374.7 471.1,376.8 472.1,370.7 473.1,375.9 474,371 474.9,372.8 475.9,387.6 476.8,387.9 477.7,386.3 478.7,399.4 479.6,399.2 480.6,386.1 481.5,384.2 482.5,369 483.4,365.5 484.4,367.3 485.3,363.4 486.2,357.2 487.1,362.7 488.1,354.2 489,354 489.9,360.9 490.9,354.6 491.9,365.6 492.8,365.3 493.8,378.9 494.7,399.2 495.6,369.7 496.6,335.2 497.5,339 498.5,353.7 499.4,351.8 500.3,361.5 501.2,370.2 502.1,362.9 503.1,375.3 504,374.7 505,376.3 505.9,388.6 506.9,383.8 507.9,391.6 509.1,385.4 510.2,369.9 511.4,368.8 512.6,354 513.5,355.5 514.5,366.8 515.4,369 516.3,359.2 517.3,358.6 518.2,350.2 519.2,359.4 520.1,380 521,387 522,403 523,386.9 523.9,361.5 524.8,355.7 525.8,361.4 526.7,355 527.6,357.8 528.5,364.7 529.5,361 530.5,375.1 531.4,374.7 532.3,377.7 533.3,388.6 534.2,391.6 535.1,371.8 536.1,362 537,339 538,345 538.9,360.5 539.9,365.3 540.8,366.8 541.8,379.4 542.7,380.3 543.6,368.8 544.6,369.8 545.5,357.8 546.7,345.6 547.8,342.2 549,327.6 550.1,350.2 551.2,378.5 552.2,378 553.1,367.1 554,368.5 555,361.5 555.8,356.3 556.7,361.9 557.5,357 558.3,354.3 559.2,362.2 560,358 561,365.1 562,380 562.8,394.3 563.6,405 564.5,396.1 565.4,395.8 566.3,380.8 567.2,379.7 568.1,375.2 569.1,356.8 570,351 570.9,344.3 571.7,329.5 572.6,325.7 573.5,320.6 574.4,305 575.3,300.5 576.2,298.2 577.1,283.1 578,280.6 578.9,281.9 579.8,270.9 580.7,277 581.6,271.6 582.5,273.2 583.4,286.1 584.3,286 585.2,288.4 586.1,298.5 587,300.5 587.9,306.4 588.8,322 589.7,332.9 590.6,340 591.5,383 592.4,365.6 593.3,358 594.1,350.7 595,334.7 595.9,336.8 596.9,348.3 597.8,351 598.7,349.9 599.6,363.3 600.5,359.5 601.4,365.3 602.3,363.4 603.2,350.7 604.1,352.7 605,343.7 605.9,334.5 606.8,333.3 607.7,320.9 608.6,318.5 609.5,319.7 610.5,309.3 611.4,310.2 612.3,304 613.2,296.2 614.1,302.7 615,295 615.9,301 616.8,317.2 617.7,325.7 618.6,333.9 619.5,351 620.3,348 621.2,328.6 622,325.7 623,325.5 623.9,314.9 624.8,317.1 625.8,307.7 626.7,303.3 627.6,308 628.5,302 629.3,300.4 630.2,313.7 631,313 632,333.3 633,358 633.9,378.8 634.8,394 635.7,369.1 636.6,354.5 637.5,353.1 638.4,343.3 639.3,343.7 640.2,344.3 641.1,336.1 642.1,339.7 643,333 644.2,326.3 645.3,325.4 646.5,318.5 647.4,326.2 648.3,342.1 649.2,351 650.1,342.5 651.1,341.5 652,331 653.2,329.5 654.3,342 655.5,340 656.4,330.7 657.3,329 658.2,318.5 659.1,286.8 660,260.8 660.9,274.4 661.8,276.5 662.7,289.6 663.6,320.1 664.5,340 665.4,354.9 666.3,376 667.1,359.9 668,340 669,320 670,249.7 671,188 672,227.6 673,258.6 674,300 675,326.9 676,341.5 677,370 678,360.5 679,339.3 680,330 681,353.7 682,372 683,322.2 684,280 685,217.6 686,150 687,113 688,85 689,136.1 690,180 691,217.8 692,260 693,285.6 694,306 695,274.9 696,250 696.9,282.5 697.7,306 698.7,223.7 699.6,146 700.3,198.9 701,243 701.8,212.3 702.5,190 703.4,143 704.4,87.8 705.3,43 706.2,70.7 707.1,92.2 708,120 708.8,163.9 709.5,200 710.2,174.4 711,154 711.8,182 712.5,200" fill="none" stroke="#ff0000" stroke-width="4" stroke-dasharray="7.5 8" stroke-linejoin="round" stroke-linecap="round"/>
</g>
<g clip-path="url(#cBa)">
<polyline points="122.3,178 123,178 123.8,177.9 124.9,177.7 125.3,201.9 125.9,238.6 126.8,217.5 127.9,191.4 128.3,206.1 129.8,261.8 129.8,262 130.8,195 131.3,213 132.8,267.7 132.8,268 134.3,209.5 134.7,193.4 135.7,258 135.8,252.4 136.7,195 137.3,277.2 137.7,335 138.8,248.5 139.6,183.6 140.3,195.7 141.6,219 141.8,212.5 142.6,183.6 143.3,200.3 144.6,232.7 144.8,231 146.3,217.1 146.5,215 147.5,228.8 147.8,221.6 149,190 149.3,188.8 150.5,183.6 150.8,197.4 151.4,228.8 152.3,220.1 153.4,209 153.8,215.6 155.3,242.2 155.4,244.5 156.8,247.3 157.3,248.4 158.3,262.7 159.3,278 159.8,300.9 160.3,327 161.2,290 161.3,288.9 162.2,274 162.8,250 163,240 164.3,199.9 164.3,198.7 165.5,290 165.8,295.1 166.5,309.6 167.3,249 167.5,230 168.7,201 168.8,207.1 169.8,314 170.3,289.6 171,250 171.8,232.6 172,227 173,260 173.3,247.2 174.1,205 174.8,230.5 175,240 176.3,169.6 176.3,167 177.5,230 177.8,226.5 178.5,216 179.3,210.9 180.7,201 180.7,202.5 182,240 182.2,241.7 183.7,252 183.9,253 185,200 185.2,194.4 186.1,174.8 186.7,186.9 188.2,214.9 188.3,216 189.7,192.2 190.4,181.3 191.2,190.4 192.6,205 192.7,208.4 194.2,245.6 194.8,259.6 195.7,231.8 197,194.3 197.2,200.4 198.7,239.2 199.1,248.7 200.2,194 200.2,194.6 201.7,224.5 202.4,237.8 203.2,265.7 203.5,274.8 204.5,230 204.7,200 205,200 206.2,236.8 207,260 207.7,240.4 208.7,214 209.2,166.1 209.5,141 210.7,144.3 211,145 212,215 212.2,199 213,143 213.7,143 214.8,143 215.2,171.7 216,225 216.7,203.5 217.5,180 218.2,172.8 218.8,167 219.7,238 220,260 221.2,187.1 221.5,170 222.7,338.9 222.8,351 223.6,59 224.2,164.3 225,300 225.7,233.7 226.5,160 227.2,221.4 228,290 228.7,228.7 229.5,160 230.2,188.3 231,220 231.7,188.5 232.9,135 233.2,133.4 234.7,125.6 235,124 236.2,117.5 236.9,113.7 237.7,120.3 239.2,132.5 239.5,135 240.7,146.8 242.2,161.5 242.2,161.5 243.7,233 244.3,262 245.2,215.8 245.5,200 246.7,271.5 247,290 247.5,180 248.2,235.7 249,301 249.7,266.8 251.2,192.5 251.5,177 252.7,288.8 252.8,299.5 254,200 254.2,196.5 255.4,173.4 255.7,192.3 257,280 257.2,272.4 258.7,209.9 259.4,180 260.2,243.9 261,311 261.7,303.2 262,299.5 263.2,209.6 263.5,185 264.7,290.9 265,320 266,191 266.2,214.8 267,327 267.7,273.3 269.2,153.8 269.4,135.7 269.6,135.3 270.7,184.8 271,200 271.6,159.4 272.2,161.1 273,163.6 273.7,198 274,215 275.2,183.2 275.8,166 276.7,194.1 277,205 278.2,188.7 278.5,184 279.7,219.7 280,230 281.2,197.8 281.3,194 282.7,314.5 282.7,318 284.2,216.3 284.7,178.7 285.7,223.9 286,240 286.8,202 287.2,206.8 288.2,221 288.7,238.2 289.5,270 290.2,246.7 291.6,195.2 291.7,197.7 293,260 293.2,259.5 294.4,255 294.7,266.1 295.5,303.7 296.1,280.5 297,250 297.6,245.4 298.5,239.3 299.1,285.6 300.6,389.7 300.6,386.5 302,290 302.1,286.2 303.5,250 303.6,245.7 305.1,200.3 305.4,192.5 306.5,280 306.6,276.3 308,240 308.1,234.4 308.8,207.6 309.5,215 309.6,225.3 310.5,290 311.1,266.7 312,235 312.6,278.2 313,303 314.1,267.3 315,240 315.6,241.2 316.9,243.5 317.1,246.7 318,258.7 318.6,240.4 319.5,215 320.1,238 321,270 321.6,247.8 322.8,206.4 323.1,218.2 324,250 324.6,241.7 325.5,230 326.1,248.7 326.5,260 327.6,211.6 328,195.3 329,293.7 329.1,289.4 330.5,240 330.6,239.1 332.1,227.8 332.4,225.7 333.5,290 333.6,293.4 334.5,319 335.1,286.3 335.8,250 336.6,218.9 336.9,208 338,260 338.1,257.7 339.5,230 339.6,229.9 340.6,228.7 341.1,245.6 341.6,261.8 342.6,246.1 343,240 344.1,247.4 344.5,250 345.6,213.1 346,200 347.1,130.5 347.3,118.2 348,246 348.6,242 349.5,236 350.1,211.4 350.7,187 351.5,240 351.6,236.4 353,186 353.1,190.3 354.5,250 354.6,243.8 356,155.6 356.1,163.4 357.2,252 357.6,231.8 358.2,201 359.1,238.7 359.6,260 360.6,238.7 361,230 362.1,287 362.7,318.7 363.6,257.9 364,230 364.8,195 365.1,208.7 366,252 366.6,187 367,141.5 368,210 368.1,208.6 369.3,189 369.6,198.8 370.5,230 371.1,227.7 372.3,223 372.6,223.3 373.9,224.8 374.1,220.2 375.2,192 375.6,210.1 376,230 377.1,170.4 377.4,152.7 378.5,220 378.6,218 379.7,189 380.1,200.9 381,230 381.6,185.3 381.9,160 383,215 383.1,214.7 384.1,211 384.6,216.7 385.6,229 386.1,232.7 387,240 387.6,231.8 388.6,217 389.1,287.3 389.5,352 390.6,271.4 391.5,201 392.1,219 393,248.7 393.6,209.9 394,180 395.1,125.5 395.3,113.4 396.5,200 396.6,198.7 397.5,178.6 398.1,193.6 399,218.7 399.6,205 400,205 401,240 401.1,240 402.4,239 402.6,241.9 403.6,261 404.1,252.5 405,235 405.6,232.3 406.9,225.6 407.1,230.4 408,260 408.6,271.6 409,281 410,240 410.1,239.6 411.3,230 411.5,237.3 412.5,265 413,251.3 413.5,240 414.5,229.4 414.7,227.8 416,280 416,281.5 417.5,330.6 418,345.6 419,270 419,269.7 420.2,261 420.5,255.5 421.5,240 422,245.4 423,255 423.5,246.4 424.7,227.8 425,236.2 426,260 426.5,254.6 427.5,245 428,256.3 429,276.7 429.5,267.2 430.5,250 431,257.1 432,270 432.5,261 433.6,243 434,248.2 435,260 435.5,246.1 435.8,239 437,270 437,270.2 438,276.7 438.5,265.3 439,255 440,250.7 440.2,250 441.5,262 441.5,262.1 442.4,267.8 443,252.1 443.5,240 444.5,220.2 444.7,216.7 446,178.8 446.4,167.8 447.5,200 447.5,201.7 448.7,311 449,293.7 450,240 450.5,236.4 451,233 452,269.7 452.3,280 453.5,272 453.5,271.8 455,245 455,245 456,247.6 456.5,259.2 457.2,275 458,269.6 458.4,267 459.5,240 459.5,239.9 460.9,230.5 461,234.3 462,270 462.5,280.1 463.3,296 464,269 464.5,250 465.5,243.9 465.7,242.7 467,268 467,268 468.2,240 468.5,245.8 469.5,265 470,268.2 470.6,272 471.5,255.6 471.8,250 473,276.7 473,276.8 474.5,206 474.8,191.5 476,238 476.3,250 477.5,261.9 478,267 479,244.7 479.2,240 480.4,286.6 480.5,283.9 481.6,250 482,243.7 482.8,230.5 483.5,247.4 484,260 485,239.5 485.2,235 486.5,249.8 486.5,250 487.7,210 488,205.6 488.9,191.5 489.5,211.9 490,230 491,211.9 491.3,206 492.5,291.2 492.6,300 493.8,191.5 494,217.5 495,367 495.5,282.7 496,190 497,175.7 497,175.3 497.7,330 498.5,204.3 498.5,200 499.5,224 500,277.7 500.3,315 501.2,190 501.5,188 502.7,179 503,225.6 503.4,300 504.3,200 504.5,216.8 505.2,290 505.9,199 506,206.8 506.6,280 507.5,212.7 507.5,210 508.4,211.6 509,242 509.3,260 510.5,201.8 510.5,200 511.9,153.7 512,158 513,230 513.5,254.1 514.5,308.6 515,258.7 515.5,200 516.5,222.6 517.4,244.8 518,216.9 519,164.5 519.5,184.4 520.5,230 521,266.6 521.9,342.8 522.5,286.1 523,230 524,188.1 524,186 525.4,132 525.5,135.1 526.5,200 526.9,220.1 527.5,244.8 528.2,183.6 528.4,192.4 529.5,230 529.9,213.6 530.7,186 531.4,228.4 532,260 532.9,287.1 533.8,311.6 534.4,263.5 535,221.8 535.9,179.5 537,132 537.4,231.2 537.5,244.8 538.9,161.6 539,158 540.4,236.6 540.5,240 541.9,183.4 542.3,169 543.4,266.2 543.5,271.8 544.9,203.2 545,200 546.4,247.7 546.5,250 547.9,185.7 548.9,142.2 549.4,188.9 550.5,283.4 550.9,259.6 552,200 552.4,211.4 553.5,240 553.9,225.5 555.2,181.9 555.4,189.9 556.8,239 556.9,235.6 558.2,200 558.4,202.8 559.8,220.4 559.9,227.8 561.4,320.5 561.5,325.5 562.9,235.2 563,230 564.4,209.9 564.5,208.7 565.9,233.1 566.4,241.4 567.4,217.1 567.5,215 568.5,274 568.9,249.2 570.2,172 570.4,171.4 570.4,171.4 571.9,168.3 572.7,166.7 573.4,162.1 574.9,152.4 576.4,142.7 577.4,136.3 577.9,140.9 579.4,154.6 580,160 580.9,169.3 582,180.7 582.4,181.2 583.9,183.3 585.4,185.3 585.5,185.4 586.9,204 588.4,224 589,232 589.9,330 590.2,330 591.3,300 591.4,304.9 592,336.8 592.9,259.4 593,250 594.3,216.3 594.4,224.5 595,280 595.9,242.2 596.2,229 597.1,296.8 597.4,285.1 598.5,240 598.9,235 600.2,218 600.4,225.4 601.5,270 601.9,264.9 603,250 603.4,247.1 603.8,244 604.5,310 604.9,292.4 605.8,250 606.4,236.2 607,221.4 607.9,232.3 608.5,240 609.4,209.6 610.8,160.4 610.9,168 611.5,230 612,244.8 612.4,216 612.7,191 613.9,236.9 614,241.8 615.3,210 615.4,208.6 616.5,187 616.9,207.8 617.8,260 618.4,242.3 619,222.7 619.4,293.8 619.9,282.3 621,254.5 621.4,248.4 622.9,223.3 622.9,222.7 624,240 624.4,236.5 625.4,226.5 625.9,218.4 627,198.5 627.4,213.5 628,240 628.9,215.9 629.3,203.6 630.4,279 630.5,289 631.5,198.5 631.9,211.3 633,252 633.4,240.6 634,220 634.9,317.4 635,333.9 636,210 636.4,226.1 637.5,278 637.9,266.7 639,230 639.4,283.9 639.6,322 640.9,324.7 641.2,325.5 642.2,180.8 642.3,190.2 643.3,250 643.8,240.5 644.4,231 645.3,247.4 646,258.7 646.8,209.1 647,200 648.1,186.8 648.3,195.9 649.8,251.8 649.9,254 651,201.6 651.3,212.5 652.2,240 652.8,239.2 653.3,238.7 654.3,253.4 654.8,260 655.8,271.1 656.3,276 657.3,250.1 657.5,246 658.5,212 658.8,220.5 660,250 660.3,221.3 661.4,129.6 661.8,141.5 662.5,160 663.3,157.9 663.7,157 664.8,220.4 665,230 666.2,284 666.3,278.7 667.5,230 667.8,238.7 669,270 669.3,263.5 670.5,240 670.8,250.8 672,290 672.3,281.4 673.5,250 673.8,260.7 675,300 675.3,291.5 676.5,260 676.8,285.9 677.8,365.7 678.3,328.4 679.4,250.5 679.8,265.5 680.5,290 681.3,265.5 682,245 682.8,259.2 684,280 684.3,273.8 685.8,243.8 686,240 687.3,253.1 688,260 688.8,228.1 689.4,204.7 690.3,279.8 690.7,312.3 691.8,242.3 692,230 693.3,243 694,250 694.8,235.9 696,215 696.3,218.8 697.8,237.5 698,240 699.3,227 700,220 700.8,236.9 701.5,251.8 702.3,232.2 703,215 703.8,202.4 704.7,188 705.3,209 706,234 706.8,213.3 707.3,200 708.3,211.7 709,220 709.8,204.2 710.5,190 711.3,185.7 712,181.8" fill="none" stroke="#021a2e" stroke-width="4" stroke-linejoin="round" stroke-linecap="round"/>
<polyline points="125.9,324.9 126.9,323 127.9,308.5 128.9,307 130,322.7 131.1,329 131.8,351.6 132.6,362 133.7,362.7 134.8,373.9 135.6,372.4 136.3,362 137.1,374.6 137.8,397.6 138.6,383.1 139.3,365 140.1,352.6 140.8,347 141.8,346.3 142.7,330.9 143.7,329 144.6,330.5 145.6,319.7 146.5,321.6 147.4,314.5 148.6,301.5 149.7,293.7 150.6,290 151.5,278.9 152.4,285.4 153.4,299.7 154.2,312.6 154.9,322 155.7,329 156.4,341 157.1,352.7 157.8,359 158.9,376.8 159.9,374.6 160.8,382.8 161.8,385.4 162.8,376.5 163.8,376.8 164.8,384.5 165.7,380.5 166.7,385.7 167.4,393.4 168.2,393 168.9,381.3 169.7,373.9 170.4,364.4 171.2,351.6 172.3,335.4 173.4,329.3 174.2,335.5 174.9,336.8 176,332.1 177.1,332.3 177.8,347.4 178.6,351.6 179.3,353.3 180.1,365 181.2,372.2 182.3,373.9 183.1,372.2 183.8,381.3 184.6,366.5 185.3,344.2 186.1,327.3 186.8,319 187.5,315.4 188.2,307 188.9,312.9 189.7,329.3 190.4,347 191.2,356 191.9,361 192.7,376.8 193.4,386.3 194.2,385.7 195.3,379.9 196.4,379.8 197.2,377.4 198,369 199,368.7 200,375.2 201,375 202,368.6 203,368.9 204,361.6 205,363.8 206,375.5 207,380 208,370.7 209,373 210,365 211,351 212,347.5 213,331.5 214,341.2 215,358 216,363.2 217,359.2 218,365 219,376.4 220,377.1 221,386 222,379.4 223,360.3 224,350 225,343.4 226,322.8 227,316.5 227.8,302.2 228.5,284.5 229.3,287.3 230.2,302.6 231,307 232,310.6 233,322 234,336.9 235,346.6 236,361.6 237,363.9 238,356.3 239,364 240,361.6 241,352.9 242,358.6 243,344 244,348.1 245,341 246,342.2 247,353.2 248,349.1 249,358 250,365.1 251,363.5 252,373 253,377.2 254,367 255,373.3 256,371 257,368.5 258,378.5 259,376.3 260,382 260.8,391 261.7,386.8 262.5,397 263.3,392 264.2,375.8 265,373 266,372.9 267,362.5 268,361.6 268.8,356.2 269.5,345 270.6,321.7 271.6,303 272.6,319.2 273.5,331.5 274.2,340.5 275,354 276,360.8 277,353.6 278,361.6 279,359.6 280,351.3 281,354.4 282,344.7 283,391.7 283.9,379.2 284.8,377.4 285.7,365.4 286.6,359.5 287.6,362.6 288.6,350.5 289.5,352 290.7,361.1 291.8,360.1 293,369 294,368.4 295,358.9 296,361.6 297,370.2 298,371.6 299,382 299.9,401.2 300.8,410.6 301.7,399 302.6,391.7 303.6,387.4 304.5,368.9 305.5,365.4 306.3,367.6 307.2,357 308,359.8 309,364.2 310,361.1 311,368.9 312,369 313,362.6 313.9,368.8 314.9,361.2 315.8,368.6 316.8,361.6 318,354.8 319.1,363.2 320.3,352.5 321.5,354 322.6,354.3 323.8,343 324.9,347.7 326,341 327,340.1 328,348 329,344.4 330,348.5 330.9,357.2 331.9,354.3 332.8,365.4 333.7,378.3 334.7,376.4 335.6,388 336.5,387.8 337.5,377.5 338.4,378.7 339.3,373 340.5,367.5 341.6,372 342.8,359.5 344,361.6 345,362 345.9,351.7 346.9,358.4 347.8,346.8 348.8,348.5 349.7,349.5 350.7,337.6 351.6,339 352.5,339.5 353.5,329.6 354.4,331.5 355.3,341.7 356.3,343 357.2,354 358.1,362.4 359,361.6 360,362 361,373.8 362,370.5 363,380.5 363.9,379 364.8,365.3 365.7,365.2 366.6,357.9 367.6,352.2 368.5,356.7 369.4,348 370.4,350.3 371.3,362.5 372.3,363.1 373.2,376.7 374.1,360.1 375,335.3 376,334.3 377,345.8 378,346.6 379.1,340.6 380.3,347.3 381.5,336.1 382.6,339 383.6,345.7 384.5,341.6 385.4,355.2 386.4,354 387.4,374.2 388.3,403 389.2,399.6 390.1,380.1 391,376.7 392,362 392.9,336.3 393.9,323.9 394.9,303.3 395.9,314.4 396.8,335.3 397.7,348.1 398.7,346.9 399.6,357.9 400.5,359.4 401.5,347.8 402.4,353.9 403.3,346.6 404.2,348.7 405.1,360.1 406,359.8 407,352.7 408,357.7 409,350.3 410,346.9 411,354.2 412,350 412.9,349.2 413.8,361.8 414.7,361.5 415.6,365.6 416.6,380.2 417.6,384.7 418.5,395.4 419.4,389.9 420.4,373.6 421.3,369 422.2,369.6 423.1,361 424.1,367.5 425,361.5 425.9,355.9 426.9,357.5 427.9,347.7 428.8,346.5 429.8,353.1 430.7,353.7 431.7,363.5 432.6,365.3 433.6,362 434.5,365.8 435.4,360.7 436.4,361.5 437.3,375.3 438.2,382.2 439.1,371.6 440.1,371.1 441,359.6 442,343.4 443,335 443.9,343.9 444.9,342.5 445.8,354 446.7,365.7 447.7,370.8 448.6,384 449.5,381.7 450.5,370.8 451.4,369 452.4,357.9 453.3,342.7 454.2,344.1 455.1,358.3 456,361.5 457,361.6 458,369.3 459,365.1 460,369 460.9,374.2 461.8,368.9 462.7,377.2 463.6,374.7 464.6,371.2 465.5,383.2 466.5,380.3 467.4,375.6 468.4,382.3 469.3,372 470.2,374.7 471.1,376.8 472.1,370.7 473.1,375.9 474,371 474.9,372.8 475.9,387.6 476.8,387.9 477.7,386.3 478.7,399.4 479.6,399.2 480.6,386.1 481.5,384.2 482.5,369 483.4,365.5 484.4,367.3 485.3,363.4 486.2,357.2 487.1,362.7 488.1,354.2 489,354 489.9,360.9 490.9,354.6 491.9,365.6 492.8,365.3 493.8,378.9 494.7,399.2 495.6,369.7 496.6,335.2 497.5,339 498.5,353.7 499.4,351.8 500.3,361.5 501.2,370.2 502.1,362.9 503.1,375.3 504,374.7 505,376.3 505.9,388.6 506.9,383.8 507.9,391.6 509.1,385.4 510.2,369.9 511.4,368.8 512.6,354 513.5,355.5 514.5,366.8 515.4,369 516.3,359.2 517.3,358.6 518.2,350.2 519.2,359.4 520.1,380 521,387 522,403 523,386.9 523.9,361.5 524.8,355.7 525.8,361.4 526.7,355 527.6,357.8 528.5,364.7 529.5,361 530.5,375.1 531.4,374.7 532.3,377.7 533.3,388.6 534.2,391.6 535.1,371.8 536.1,362 537,339 538,345 538.9,360.5 539.9,365.3 540.8,366.8 541.8,379.4 542.7,380.3 543.6,368.8 544.6,369.8 545.5,357.8 546.7,345.6 547.8,342.2 549,327.6 550.1,350.2 551.2,378.5 552.2,378 553.1,367.1 554,368.5 555,361.5 555.8,356.3 556.7,361.9 557.5,357 558.3,354.3 559.2,362.2 560,358 561,365.1 562,380 562.8,394.3 563.6,405 564.5,396.1 565.4,395.8 566.3,380.8 567.2,379.7 568.1,375.2 569.1,356.8 570,351 570.9,344.3 571.7,329.5 572.6,325.7 573.5,320.6 574.4,305 575.3,300.5 576.2,298.2 577.1,283.1 578,280.6 578.9,281.9 579.8,270.9 580.7,277 581.6,271.6 582.5,273.2 583.4,286.1 584.3,286 585.2,288.4 586.1,298.5 587,300.5 587.9,306.4 588.8,322 589.7,332.9 590.6,340 591.5,383 592.4,365.6 593.3,358 594.1,350.7 595,334.7 595.9,336.8 596.9,348.3 597.8,351 598.7,349.9 599.6,363.3 600.5,359.5 601.4,365.3 602.3,363.4 603.2,350.7 604.1,352.7 605,343.7 605.9,334.5 606.8,333.3 607.7,320.9 608.6,318.5 609.5,319.7 610.5,309.3 611.4,310.2 612.3,304 613.2,296.2 614.1,302.7 615,295 615.9,301 616.8,317.2 617.7,325.7 618.6,333.9 619.5,351 620.3,348 621.2,328.6 622,325.7 623,325.5 623.9,314.9 624.8,317.1 625.8,307.7 626.7,303.3 627.6,308 628.5,302 629.3,300.4 630.2,313.7 631,313 632,333.3 633,358 633.9,378.8 634.8,394 635.7,369.1 636.6,354.5 637.5,353.1 638.4,343.3 639.3,343.7 640.2,344.3 641.1,336.1 642.1,339.7 643,333 644.2,326.3 645.3,325.4 646.5,318.5 647.4,326.2 648.3,342.1 649.2,351 650.1,342.5 651.1,341.5 652,331 653.2,329.5 654.3,342 655.5,340 656.4,330.7 657.3,329 658.2,318.5 659.1,286.8 660,260.8 660.9,274.4 661.8,276.5 662.7,289.6 663.6,320.1 664.5,340 665.4,354.9 666.3,376 667.1,359.9 668,340 669,320 670,249.7 671,188 672,227.6 673,258.6 674,300 675,326.9 676,341.5 677,370 678,360.5 679,339.3 680,330 681,353.7 682,372 683,322.2 684,280 685,217.6 686,150 687,113 688,85 689,136.1 690,180 691,217.8 692,260 693,285.6 694,306 695,274.9 696,250 696.9,282.5 697.7,306 698.7,223.7 699.6,146 700.3,198.9 701,243 701.8,212.3 702.5,190 703.4,143 704.4,87.8 705.3,43 706.2,70.7 707.1,92.2 708,120 708.8,163.9 709.5,200 710.2,174.4 711,154 711.8,182 712.5,200" fill="none" stroke="#c8182e" stroke-width="4" stroke-dasharray="7.5 8" stroke-linejoin="round" stroke-linecap="round"/>
</g>
<line x1="576.6" y1="45.4" x2="581" y2="45.4" stroke="#021a2e" stroke-width="3.6" stroke-linecap="round"/>
<line x1="581" y1="45.4" x2="630.1" y2="45.4" stroke="#3c0003" stroke-width="3.6" stroke-linecap="round"/>
<line x1="576.7" y1="67" x2="581" y2="67" stroke="#c8182e" stroke-width="3.8" stroke-linecap="round"/>
<line x1="581" y1="67" x2="587.4" y2="67" stroke="#ff0000" stroke-width="3.8" stroke-linecap="round"/>
<line x1="594.3" y1="67" x2="605.4" y2="67" stroke="#ff0000" stroke-width="3.8" stroke-linecap="round"/>
<line x1="611.9" y1="67" x2="623" y2="67" stroke="#ff0000" stroke-width="3.8" stroke-linecap="round"/>
<text x="643.6" y="51.2" font-size="16.3" fill="#3c0003" textLength="32.6" lengthAdjust="spacingAndGlyphs">PAR</text>
<text x="643.6" y="72.6" font-size="16.3" fill="#3c0003" textLength="32.6" lengthAdjust="spacingAndGlyphs">VPD</text>
<text class="serif" x="282.5" y="107.2" font-size="30.5" fill="#000" textLength="49.2" lengthAdjust="spacingAndGlyphs">dry</text>
<text class="serif" x="493" y="111.1" font-size="33" fill="#000" textLength="50.2" lengthAdjust="spacingAndGlyphs">wet</text>
<text class="serif" x="615.1" y="110.4" font-size="30.5" fill="#000" textLength="49.2" lengthAdjust="spacingAndGlyphs">dry</text>
<text x="148.3" y="45.1" font-size="24" textLength="12.4" lengthAdjust="spacingAndGlyphs">a</text>
<g stroke="#000" stroke-width="3.5" fill="none" stroke-linecap="butt">
<line x1="115" y1="9.2" x2="720" y2="9.2"/>
<line x1="115" y1="422.6" x2="720" y2="422.6"/>
<line x1="122.5" y1="7.5" x2="122.5" y2="429.1"/>
<line x1="115" y1="422.6" x2="122.5" y2="422.6"/>
<line x1="115" y1="370.9" x2="122.5" y2="370.9"/>
<line x1="115" y1="319.2" x2="122.5" y2="319.2"/>
<line x1="115" y1="267.6" x2="122.5" y2="267.6"/>
<line x1="115" y1="215.9" x2="122.5" y2="215.9"/>
<line x1="115" y1="164.2" x2="122.5" y2="164.2"/>
<line x1="115" y1="112.6" x2="122.5" y2="112.6"/>
<line x1="115" y1="60.9" x2="122.5" y2="60.9"/>
<line x1="115" y1="9.2" x2="122.5" y2="9.2"/>
<line x1="122.3" y1="422.6" x2="122.3" y2="429.1"/>
<line x1="197.2" y1="422.6" x2="197.2" y2="429.1"/>
<line x1="272.2" y1="422.6" x2="272.2" y2="429.1"/>
<line x1="347.1" y1="422.6" x2="347.1" y2="429.1"/>
<line x1="422" y1="422.6" x2="422" y2="429.1"/>
<line x1="497" y1="422.6" x2="497" y2="429.1"/>
<line x1="571.9" y1="422.6" x2="571.9" y2="429.1"/>
<line x1="646.8" y1="422.6" x2="646.8" y2="429.1"/>
<line x1="713.2" y1="422.6" x2="720" y2="422.6"/>
<line x1="713.2" y1="339.9" x2="720" y2="339.9"/>
<line x1="713.2" y1="257.2" x2="720" y2="257.2"/>
<line x1="713.2" y1="174.6" x2="720" y2="174.6"/>
<line x1="713.2" y1="91.9" x2="720" y2="91.9"/>
<line x1="713.2" y1="9.2" x2="720" y2="9.2"/>
</g>
<line x1="713.2" y1="10.9" x2="713.2" y2="420.9" stroke="#3c0003" stroke-width="3.5"/>
<text x="105.8" y="429" font-size="19.5" text-anchor="end">0</text>
<text x="105.8" y="377.3" font-size="19.5" text-anchor="end">200</text>
<text x="105.8" y="325.6" font-size="19.5" text-anchor="end">400</text>
<text x="105.8" y="274" font-size="19.5" text-anchor="end">600</text>
<text x="105.8" y="222.3" font-size="19.5" text-anchor="end">800</text>
<text x="105.8" y="170.6" font-size="19.5" text-anchor="end">1000</text>
<text x="105.8" y="119" font-size="19.5" text-anchor="end">1200</text>
<text x="105.8" y="67.3" font-size="19.5" text-anchor="end">1400</text>
<text x="105.8" y="15.6" font-size="19.5" text-anchor="end">1600</text>
<text x="729" y="428.9" font-size="19.5">0</text>
<text x="729" y="346.2" font-size="19.5">1</text>
<text x="729" y="263.5" font-size="19.5">2</text>
<text x="729" y="180.9" font-size="19.5">3</text>
<text x="729" y="98.2" font-size="19.5">4</text>
<text x="729" y="15.5" font-size="19.5">5</text>
<text transform="translate(16,217.7) rotate(-90)" font-size="19.5" text-anchor="middle" textLength="331" lengthAdjust="spacingAndGlyphs">Photosynthetically Active Radiation</text>
<text transform="translate(42,214.4) rotate(-90)" font-size="20.3" text-anchor="middle">(PAR, <tspan style="font-family:'Liberation Serif',serif;font-weight:normal">&#956;</tspan>mol m<tspan font-size="13" dy="-10">-2</tspan><tspan dy="10">s</tspan><tspan font-size="13" dy="-10">-1</tspan><tspan dy="10">)</tspan></text>
<text transform="translate(768.5,223.5) rotate(-90)" font-size="19.5" text-anchor="middle" textLength="209.7" lengthAdjust="spacingAndGlyphs">Vapor Pressure Deficit</text>
<text transform="translate(792.6,221) rotate(-90)" font-size="19.5" text-anchor="middle" textLength="98.6" lengthAdjust="spacingAndGlyphs">(VPD, kPa)</text>
<rect x="447" y="453.7" width="132.3" height="410.2" fill="#c2dbef"/>
<rect x="579.3" y="453.7" width="133.7" height="410.2" fill="#fec2c3"/>
<line x1="579.3" y1="453.7" x2="579.3" y2="863.9" stroke="#cfa4a9" stroke-width="2.8"/>
<g stroke="#021a2e" stroke-width="2.2" fill="none">
<line x1="470.2" y1="565.9" x2="470.2" y2="755.6"/>
<line x1="463.7" y1="565.9" x2="476.7" y2="565.9"/>
<line x1="463.7" y1="755.6" x2="476.7" y2="755.6"/>
</g>
<g stroke="#021a2e" stroke-width="2.2" fill="none">
<line x1="483.5" y1="610.9" x2="483.5" y2="674.5"/>
<line x1="477" y1="610.9" x2="490" y2="610.9"/>
<line x1="477" y1="674.5" x2="490" y2="674.5"/>
</g>
<g stroke="#021a2e" stroke-width="2.2" fill="none">
<line x1="491" y1="630" x2="491" y2="700"/>
<line x1="484.5" y1="630" x2="497.5" y2="630"/>
<line x1="484.5" y1="700" x2="497.5" y2="700"/>
</g>
<g stroke="#021a2e" stroke-width="2.2" fill="none">
<line x1="505.8" y1="579.7" x2="505.8" y2="685.8"/>
<line x1="499.3" y1="579.7" x2="512.3" y2="579.7"/>
<line x1="499.3" y1="685.8" x2="512.3" y2="685.8"/>
</g>
<g stroke="#021a2e" stroke-width="2.2" fill="none">
<line x1="512.2" y1="644.9" x2="512.2" y2="691.5"/>
<line x1="505.7" y1="644.9" x2="518.7" y2="644.9"/>
<line x1="505.7" y1="691.5" x2="518.7" y2="691.5"/>
</g>
<g stroke="#021a2e" stroke-width="2.2" fill="none">
<line x1="522.1" y1="571.7" x2="522.1" y2="665.6"/>
<line x1="515.6" y1="571.7" x2="528.6" y2="571.7"/>
<line x1="515.6" y1="665.6" x2="528.6" y2="665.6"/>
</g>
<g stroke="#021a2e" stroke-width="2.2" fill="none">
<line x1="532.7" y1="644.9" x2="532.7" y2="747.1"/>
<line x1="526.2" y1="644.9" x2="539.2" y2="644.9"/>
<line x1="526.2" y1="747.1" x2="539.2" y2="747.1"/>
</g>
<g stroke="#021a2e" stroke-width="2.2" fill="none">
<line x1="546.5" y1="639.5" x2="546.5" y2="730.8"/>
<line x1="540" y1="639.5" x2="553" y2="639.5"/>
<line x1="540" y1="730.8" x2="553" y2="730.8"/>
</g>
<g stroke="#021a2e" stroke-width="2.2" fill="none">
<line x1="556.7" y1="578.7" x2="556.7" y2="688.5"/>
<line x1="550.2" y1="578.7" x2="563.2" y2="578.7"/>
<line x1="550.2" y1="688.5" x2="563.2" y2="688.5"/>
</g>
<g stroke="#021a2e" stroke-width="2.2" fill="none">
<line x1="564.1" y1="655.9" x2="564.1" y2="740.3"/>
<line x1="557.6" y1="655.9" x2="570.6" y2="655.9"/>
</g>
<g stroke="#3c0003" stroke-width="2.2" fill="none">
<line x1="585.6" y1="664" x2="585.6" y2="729.9"/>
<line x1="579.1" y1="664" x2="592.1" y2="664"/>
<line x1="579.1" y1="729.9" x2="592.1" y2="729.9"/>
</g>
<g stroke="#3c0003" stroke-width="2.2" fill="none">
<line x1="606.1" y1="673" x2="606.1" y2="725.2"/>
<line x1="599.6" y1="673" x2="612.6" y2="673"/>
<line x1="599.6" y1="725.2" x2="612.6" y2="725.2"/>
</g>
<g stroke="#3c0003" stroke-width="2.2" fill="none">
<line x1="640.6" y1="665.1" x2="640.6" y2="739.9"/>
<line x1="634.1" y1="665.1" x2="647.1" y2="665.1"/>
</g>
<g stroke="#3c0003" stroke-width="2.2" fill="none">
<line x1="658.5" y1="628.3" x2="658.5" y2="718.8"/>
<line x1="652" y1="628.3" x2="665" y2="628.3"/>
<line x1="652" y1="718.8" x2="665" y2="718.8"/>
</g>
<g stroke="#3c0003" stroke-width="2.2" fill="none">
<line x1="701.8" y1="671.5" x2="701.8" y2="750.8"/>
<line x1="695.3" y1="671.5" x2="708.3" y2="671.5"/>
<line x1="695.3" y1="750.8" x2="708.3" y2="750.8"/>
</g>
<circle cx="470.2" cy="660.8" r="10.7" fill="#021a2e"/>
<circle cx="483.5" cy="642.3" r="10.7" fill="#021a2e"/>
<circle cx="491" cy="665" r="10.7" fill="#021a2e"/>
<circle cx="505.8" cy="632" r="10.7" fill="#021a2e"/>
<circle cx="512.2" cy="668.2" r="10.7" fill="#021a2e"/>
<circle cx="522.1" cy="618.3" r="10.7" fill="#021a2e"/>
<circle cx="532.7" cy="695.8" r="10.7" fill="#021a2e"/>
<circle cx="546.5" cy="684.7" r="10.7" fill="#021a2e"/>
<circle cx="556.7" cy="633.6" r="10.7" fill="#021a2e"/>
<circle cx="564.1" cy="699" r="10.7" fill="#021a2e"/>
<circle cx="585.6" cy="697" r="10.7" fill="#3c0003"/>
<circle cx="606.1" cy="698.8" r="10.7" fill="#3c0003"/>
<circle cx="616.7" cy="728.6" r="10.7" fill="#3c0003"/>
<circle cx="640.6" cy="702.8" r="10.7" fill="#3c0003"/>
<circle cx="658.5" cy="673" r="10.7" fill="#3c0003"/>
<circle cx="679.5" cy="735.2" r="10.7" fill="#3c0003"/>
<circle cx="701.8" cy="710.7" r="10.7" fill="#3c0003"/>
<line x1="122.5" y1="741.8" x2="447" y2="741.8" stroke="#bebebe" stroke-width="2.4"/>
<line x1="447" y1="741.8" x2="579.3" y2="741.8" stroke="#94adc4" stroke-width="2.4"/>
<line x1="579.3" y1="741.8" x2="713.2" y2="741.8" stroke="#c9979b" stroke-width="2.4"/>
<text class="serif" x="491" y="514.1" font-size="33" fill="#000" textLength="50.2" lengthAdjust="spacingAndGlyphs">wet</text>
<text class="serif" x="616.6" y="516" font-size="30.5" fill="#000" textLength="48.7" lengthAdjust="spacingAndGlyphs">dry</text>
<text x="148" y="487.6" font-size="24.5" textLength="13.4" lengthAdjust="spacingAndGlyphs">b</text>
<g stroke="#000" stroke-width="3.5" fill="none">
<line x1="115" y1="452" x2="715" y2="452"/>
<line x1="115" y1="865.6" x2="715" y2="865.6"/>
<line x1="122.5" y1="450.3" x2="122.5" y2="872.1"/>
<line x1="713.2" y1="450.3" x2="713.2" y2="867.3"/>
<line x1="115" y1="865.6" x2="122.5" y2="865.6"/>
<line x1="115" y1="762.2" x2="122.5" y2="762.2"/>
<line x1="115" y1="658.8" x2="122.5" y2="658.8"/>
<line x1="115" y1="555.4" x2="122.5" y2="555.4"/>
<line x1="115" y1="452" x2="122.5" y2="452"/>
<line x1="122.3" y1="865.6" x2="122.3" y2="872.1"/>
<line x1="197.2" y1="865.6" x2="197.2" y2="872.1"/>
<line x1="272.2" y1="865.6" x2="272.2" y2="872.1"/>
<line x1="347.1" y1="865.6" x2="347.1" y2="872.1"/>
<line x1="422" y1="865.6" x2="422" y2="872.1"/>
<line x1="497" y1="865.6" x2="497" y2="872.1"/>
<line x1="571.9" y1="865.6" x2="571.9" y2="872.1"/>
<line x1="646.8" y1="865.6" x2="646.8" y2="872.1"/>
</g>
<text x="105.8" y="872" font-size="19.5" text-anchor="end">0.0</text>
<text x="105.8" y="768.6" font-size="19.5" text-anchor="end">0.1</text>
<text x="105.8" y="665.2" font-size="19.5" text-anchor="end">0.2</text>
<text x="105.8" y="561.8" font-size="19.5" text-anchor="end">0.3</text>
<text x="105.8" y="458.4" font-size="19.5" text-anchor="end">0.4</text>
<text x="122.3" y="899.1" font-size="19.5" text-anchor="middle">0</text>
<text x="197.2" y="899.1" font-size="19.5" text-anchor="middle">50</text>
<text x="272.2" y="899.1" font-size="19.5" text-anchor="middle">100</text>
<text x="347.1" y="899.1" font-size="19.5" text-anchor="middle">150</text>
<text x="422" y="899.1" font-size="19.5" text-anchor="middle">200</text>
<text x="497" y="899.1" font-size="19.5" text-anchor="middle">250</text>
<text x="571.9" y="899.1" font-size="19.5" text-anchor="middle">300</text>
<text x="646.8" y="899.1" font-size="19.5" text-anchor="middle">350</text>
<text transform="translate(35.5,661.4) rotate(-90)" font-size="19.5" text-anchor="middle" textLength="227.7" lengthAdjust="spacingAndGlyphs">Volumetric soil moisture</text>
<text transform="translate(60.8,658.7) rotate(-90)" font-size="19.8" text-anchor="middle">(m<tspan font-size="13" dy="-10">3</tspan><tspan dy="10"> m</tspan><tspan font-size="13" dy="-10">-3</tspan><tspan dy="10">)</tspan></text>
<text x="292" y="936.6" font-size="19.5" textLength="253.3" lengthAdjust="spacingAndGlyphs">Days since January 1, 2018</text>
</svg></body></html>
